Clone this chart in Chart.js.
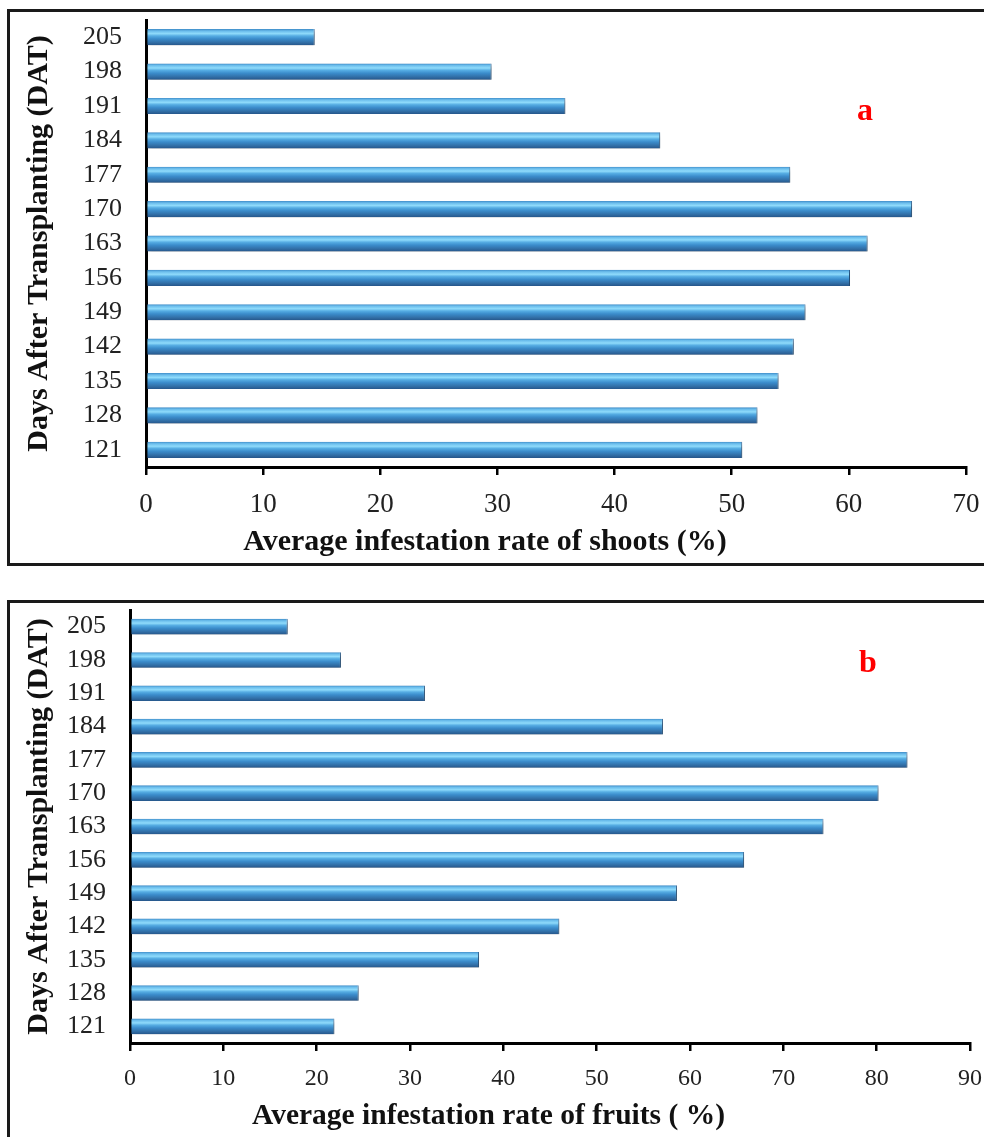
<!DOCTYPE html>
<html>
<head>
<meta charset="utf-8">
<script src="https://cdn.jsdelivr.net/npm/chart.js@4.4.1/dist/chart.umd.min.js"></script>
<style>
  body { margin: 0; width: 984px; height: 1137px; overflow: hidden; background: #fff; position: relative; font-family: 'Liberation Serif', serif; }
  .panel { position: absolute; left: 7px; width: 1000px; border: 3px solid #1a1a1a; box-sizing: border-box; }
  canvas { position: absolute; left: 0; }
  .xtitle { position: absolute; left: 0; font-weight: bold; line-height: 30px; text-align: center; color: #111; white-space: nowrap; }
  .tag { position: absolute; color: #ff0000; font-weight: bold; font-size: 32px; line-height: 32px; }
</style>
</head>
<body>
<div class="panel" style="top:9px; height:557px"></div>
<div class="panel" style="top:600px; height:600px"></div>

<canvas id="shoots-chart" width="984" height="565" style="top:0"></canvas>
<canvas id="fruits-chart" width="984" height="536" style="top:601px"></canvas>

<div class="xtitle" style="top:525px; width:970px; font-size:30px">Average infestation rate of shoots (%)</div>
<div class="xtitle" style="top:1099px; width:977px; font-size:29.5px">Average infestation rate of fruits ( %)</div>
<div class="tag" style="left:857px; top:93px">a</div>
<div class="tag" style="left:859px; top:645px">b</div>

<script>
// days after transplanting (bottom to top)
let days = [121, 128, 135, 142, 149, 156, 163, 170, 177, 184, 191, 198, 205]

// average infestation rate (%)
let shootRate = [50.9, 52.2, 54.0, 55.3, 56.3, 60.1, 61.6, 65.4, 55.0, 43.9, 35.8, 29.5, 14.4]
let fruitRate = [21.9, 24.5, 37.4, 46.0, 58.6, 65.8, 74.3, 80.2, 83.3, 57.1, 31.6, 22.6, 16.9]

let shootMax = 70
let fruitMax = 90

let yTitle = 'Days After Transplanting (DAT)'
let serif = 'Liberation Serif'
let barPct = 0.47

// glossy blue fill, one gradient per bar
function barFill(context) {
    let chart = context.chart
    if (!chart.chartArea || context.dataIndex === undefined) return '#3f95d0'
    let yScale = chart.scales.y
    let y = yScale.getPixelForValue(context.dataIndex)
    let band = chart.chartArea.height / days.length
    let half = band * barPct / 2
    let g = chart.ctx.createLinearGradient(0, y - half, 0, y + half)
    g.addColorStop(0, '#3f8cc8')
    g.addColorStop(0.12, '#6bbdec')
    g.addColorStop(0.28, '#8fdbfb')
    g.addColorStop(0.42, '#56ade3')
    g.addColorStop(0.6, '#3b8ccb')
    g.addColorStop(0.82, '#3270a8')
    g.addColorStop(1, '#26568a')
    return g
}

// soft drop shadow under the bars
let barShadow = {
    id: 'barShadow',
    beforeDatasetsDraw(chart) {
        let ctx = chart.ctx
        ctx.save()
        ctx.shadowColor = 'rgba(0,0,0,0.3)'
        ctx.shadowBlur = 4
        ctx.shadowOffsetX = 2
        ctx.shadowOffsetY = 3
    },
    afterDatasetsDraw(chart) {
        chart.ctx.restore()
    }
}

function makeChart(canvasId, values, maxVal, sizes) {
    let ctx = document.getElementById(canvasId).getContext('2d')
    return new Chart(ctx, {
        type: 'bar',
        data: {
            labels: days,
            datasets: [{
                data: values,
                backgroundColor: barFill,
                borderColor: '#2b5f90',
                borderWidth: { right: 1 },
                borderSkipped: false,
                barPercentage: barPct,
                categoryPercentage: 1
            }]
        },
        options: {
            indexAxis: 'y',
            responsive: false,
            animation: false,
            layout: { padding: { top: sizes.top, right: sizes.right, left: 0, bottom: 0 } },
            plugins: { legend: { display: false }, tooltip: { enabled: false } },
            scales: {
                x: {
                    min: 0,
                    max: maxVal,
                    afterFit: function (scale) {
                        scale.height = sizes.xHeight
                        scale.paddingLeft = 0
                        scale.paddingRight = 0
                    },
                    grid: { drawOnChartArea: false, drawTicks: true, tickLength: 8, color: '#000', lineWidth: 2.5 },
                    border: { color: '#000', width: 3 },
                    ticks: { stepSize: 10, padding: sizes.xPad, color: '#222', font: { family: serif, size: sizes.xFont } }
                },
                y: {
                    reverse: true,
                    afterFit: function (scale) {
                        scale.width = sizes.yWidth
                        scale.paddingTop = 0
                        scale.paddingBottom = 0
                    },
                    grid: { display: false, drawTicks: false },
                    border: { color: '#000', width: 3 },
                    ticks: { autoSkip: false, padding: 24, color: '#222', font: { family: serif, size: 26 } },
                    title: {
                        display: true,
                        text: yTitle,
                        color: '#111',
                        padding: { top: 21, bottom: 0 },
                        font: { family: serif, size: 30, weight: 'bold' }
                    }
                }
            }
        },
        plugins: [barShadow]
    })
}

makeChart('shoots-chart', shootRate, shootMax, { top: 20, right: 18, xHeight: 98, yWidth: 146, xFont: 27, xPad: 14 })
makeChart('fruits-chart', fruitRate, fruitMax, { top: 9, right: 14, xHeight: 94, yWidth: 130, xFont: 24, xPad: 13 })
</script>
</body>
</html>
